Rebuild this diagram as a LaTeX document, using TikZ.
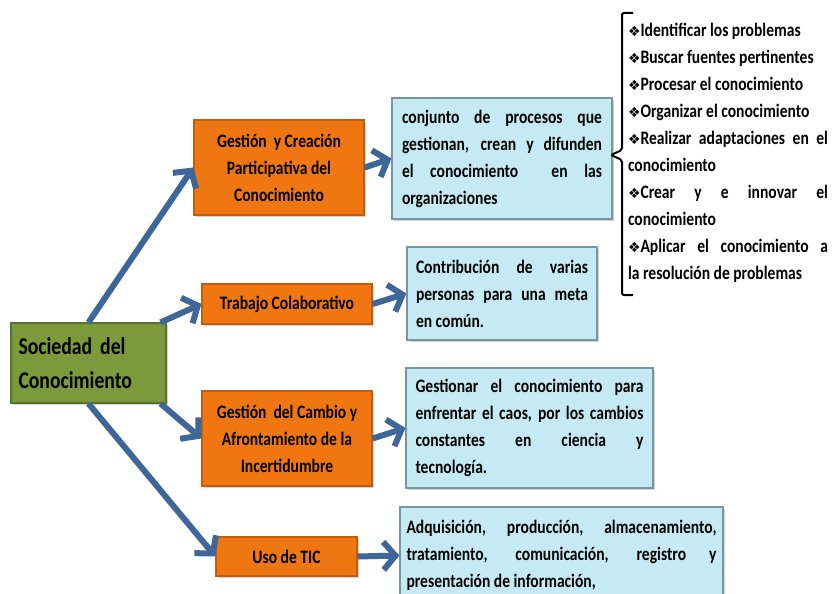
\documentclass[tikz,border=0pt]{standalone}
\usepackage{fontspec}
\setmainfont{Carlito}[FakeStretch=0.82]
\newfontfamily\symfont{DejaVu Sans}
\usetikzlibrary{arrows.meta,shadows}

\definecolor{naranja}{RGB}{240,118,18}
\definecolor{naranjaosc}{RGB}{196,92,12}
\definecolor{verde}{RGB}{122,154,60}
\definecolor{verdeosc}{RGB}{88,114,40}
\definecolor{celeste}{RGB}{198,234,244}
\definecolor{celesteosc}{RGB}{118,150,162}
\definecolor{azulflecha}{RGB}{62,102,152}

\newcommand{\rombo}{{\symfont\fontsize{14}{14}\selectfont ❖}}

\begin{document}
\begin{tikzpicture}[%
        x = 1pt, y = -1pt,
        caja/.style = {line width=1.2pt, inner sep=0pt,
            font=\fontsize{19}{27}\selectfont\bfseries,
            drop shadow={shadow xshift=1.5pt, shadow yshift=-1.5pt, opacity=0.35}},
        tema/.style = {caja, draw=naranjaosc, fill=naranja, align=center},
        defin/.style = {caja, draw=celesteosc, fill=celeste, align=justify},
        flecha/.style = {draw=azulflecha, line width=6pt,
            -{Straight Barb[length=12pt, width=28pt, line width=6pt]}}
    ]
      \useasboundingbox (0,0) rectangle (833,594);
      \clip (0,0) rectangle (833,594);
      % raiz
      \node[caja, draw=verdeosc, fill=verde, align=left, text width=140pt,
            minimum width=155pt, minimum height=80pt,
            font=\fontsize{24}{34}\selectfont\bfseries] (soc) at (88.5,363)
            {Sociedad del\\Conocimiento};
      % temas
      \node[tema, minimum width=170pt, minimum height=95pt] (gcc) at (279,167.5)
            {Gestión\ \ y Creación\\Participativa del\\Conocimiento};
      \node[tema, minimum width=170pt, minimum height=40pt] (tc) at (287,304)
            {Trabajo Colaborativo};
      \node[tema, minimum width=170pt, minimum height=95pt] (gca) at (287,438.5)
            {Gestión\ \ del Cambio y\\Afrontamiento de la\\Incertidumbre};
      \node[tema, minimum width=141pt, minimum height=39pt] (tic) at (286.5,556.5)
            {Uso de TIC};
      % definiciones
      \node[defin, text width=200pt, minimum width=220pt, minimum height=121pt] (dgcc) at (502,158.5)
            {conjunto de procesos que\linebreak gestionan, crean y difunden\linebreak
             el conocimiento \ en las\linebreak organizaciones};
      \node[defin, text width=172pt, minimum width=190pt, minimum height=93pt] (dtc) at (502,293.5)
            {Contribución de varias\linebreak personas para una meta\linebreak en común.};
      \node[defin, text width=228pt, minimum width=247pt, minimum height=120pt] (dgca) at (529.5,428)
            {Gestionar el conocimiento para\linebreak enfrentar el caos, por los cambios\linebreak
             constantes en ciencia y\linebreak tecnología.};
      \node[defin, text width=310pt, minimum width=323pt, minimum height=97pt] (dtic) at (561.5,555.5)
            {Adquisición, producción, almacenamiento,\linebreak tratamiento, comunicación, registro y\linebreak
             presentación de información,};
      % lista de acciones
      \node[inner sep=0pt, text width=200pt, align=justify,
            font=\fontsize{19}{27}\selectfont\bfseries] (acc) at (728,153)
            {\rombo Identificar los problemas\par
             \rombo Buscar fuentes pertinentes\par
             \rombo Procesar el conocimiento\par
             \rombo Organizar el conocimiento\par
             \rombo Realizar adaptaciones en el\linebreak conocimiento\par
             \rombo Crear y e innovar el\linebreak conocimiento\par
             \rombo Aplicar el conocimiento a\linebreak la resolución de problemas};
      \coordinate (punta) at (611,155);
      \draw[line width=2pt, rounded corners=2pt]
            (633,13) -| (622,150) -- (punta) -- (622,160) |- (633,295);
      % flechas
      \draw[flecha] (soc.north) -- (gcc.west);
      \draw[flecha] ([xshift=-6pt]soc.north east) -- (tc.west);
      \draw[flecha] ([xshift=-6pt]soc.south east) -- (gca.west);
      \draw[flecha] (soc.south) -- (tic.west);
      \draw[flecha] (gcc.east) -- (dgcc.west);
      \draw[flecha] (tc.east) -- (dtc.west);
      \draw[flecha] (gca.east) -- (dgca.west);
      \draw[flecha] (tic.east) -- (dtic.west);
    \end{tikzpicture}
\end{document}
